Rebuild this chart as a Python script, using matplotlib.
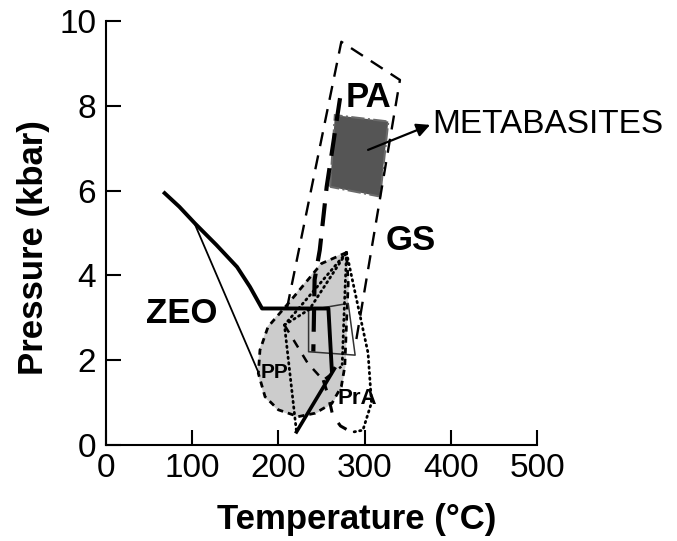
import numpy as np
import matplotlib.pyplot as plt

plt.rcParams['font.family'] = ['Liberation Sans', 'DejaVu Sans']

# ZEO boundary (thick solid)
zeo_t = [68, 85, 103, 128, 152, 167, 181, 258, 262]
zeo_p = [5.94, 5.62, 5.23, 4.72, 4.20, 3.73, 3.22, 3.22, 1.75]
# thick solid diagonal at the bottom
diag_t = [221, 265]
diag_p = [0.31, 1.80]
# thin line from ZEO curve to PP
pp_t = [103, 176]
pp_p = [5.21, 1.75]

# GS / PA field (dashed, open at bottom)
gs_t = [210, 273, 341, 289]
gs_p = [3.23, 9.51, 8.61, 2.32]
# PA boundary (thick long dashes)
pa_t = [271.5, 256, 248, 242, 240.5]
pa_p = [8.18, 6.09, 4.60, 3.90, 2.20]

# metabasites box and arrow to its label
meta_t = [260, 265.5, 327.5, 318]
meta_p = [6.09, 7.78, 7.63, 5.86]
arrow_start = (304, 6.96)
arrow_end = (376, 7.55)

# PP field (grey, dashed edge)
pp_field_t = [279, 250, 211.5, 188, 178.6, 176.7, 184.5, 200, 223, 242.5, 262, 273, 277, 279, 281]
pp_field_p = [4.54, 4.28, 3.34, 2.79, 2.24, 1.69, 1.14, 0.83, 0.67, 0.75, 0.98, 1.38, 1.85, 2.87, 3.81]

# dotted outlines
dot1_t = [279, 207, 221]
dot1_p = [4.54, 2.83, 0.31]
dot2_t = [207, 236, 279]
dot2_p = [2.83, 3.20, 4.54]
dot3_t = [279, 304, 308, 298, 285]
dot3_p = [4.54, 2.17, 1.00, 0.35, 0.30]
dot4_t = [279, 276, 274]
dot4_p = [4.54, 3.00, 1.90]

# dashed lines inside PP field
dash_in_t = [207, 234, 252, 273]
dash_in_p = [2.83, 1.93, 1.53, 1.85]
prA_arc_t = [252, 258, 263, 272, 285]
prA_arc_p = [1.53, 1.15, 0.70, 0.45, 0.30]

# thin rectangle
rect_t = [235, 281, 289, 235, 235]
rect_p = [3.18, 3.34, 2.12, 2.20, 3.18]

fig = plt.figure(figsize=(6.77, 5.41), dpi=100)
ax = fig.add_axes([0.1566, 0.1774, 0.6366, 0.7838])

ax.fill(pp_field_t, pp_field_p, color='#cccccc', zorder=1)
ax.fill(pp_field_t, pp_field_p, fill=False, ec='black', lw=2.0,
        ls=(0, (2.2, 1.8)), zorder=3)
ax.fill(meta_t, meta_p, fc='#555555', ec='#6a6a6a', lw=1.5,
        ls='-.', zorder=2)

ax.plot(gs_t, gs_p, color='black', lw=1.7, ls=(0, (6, 4)), zorder=3)
ax.plot(pa_t, pa_p, color='black', lw=3.0, ls=(0, (5.5, 3)), zorder=4)
ax.plot(zeo_t, zeo_p, color='black', lw=2.8, zorder=5)
ax.plot(diag_t, diag_p, color='black', lw=2.6, zorder=5)
ax.plot(pp_t, pp_p, color='black', lw=1.3, zorder=5)
ax.plot(rect_t, rect_p, color='#333333', lw=1.1, zorder=4)

for t, p in [(dot1_t, dot1_p), (dot2_t, dot2_p), (dot3_t, dot3_p), (dot4_t, dot4_p)]:
    ax.plot(t, p, color='black', lw=2.0, ls=(0, (0.5, 1.5)),
            dash_capstyle='round', zorder=4)
ax.plot(dash_in_t, dash_in_p, color='black', lw=1.8, ls=(0, (3.5, 3.5)), zorder=4)
ax.plot(prA_arc_t, prA_arc_p, color='black', lw=2.2, ls=(0, (3.5, 4)), zorder=4)

ax.text(304, 8.2, 'PA', fontsize=25, fontweight='bold', ha='center', va='center')
ax.text(353, 4.83, 'GS', fontsize=25, fontweight='bold', ha='center', va='center')
ax.text(88, 3.11, 'ZEO', fontsize=25, fontweight='bold', ha='center', va='center')
ax.text(195, 1.70, 'PP', fontsize=15, fontweight='bold', ha='center', va='center', zorder=6)
ax.text(291, 1.10, 'PrA', fontsize=16, fontweight='bold', ha='center', va='center', zorder=6)
ax.annotate('', xy=arrow_end, xytext=arrow_start,
            arrowprops=dict(arrowstyle='-|>', color='black', lw=1.6,
                            mutation_scale=20, shrinkA=0, shrinkB=0), zorder=6)
ax.text(arrow_end[0] + 2, arrow_end[1], 'METABASITES', fontsize=24,
        ha='left', va='center')

ax.set_xlim(0, 500)
ax.set_ylim(0, 10)
ax.set_xticks([0, 100, 200, 300, 400, 500])
ax.set_yticks([0, 2, 4, 6, 8, 10])
ax.tick_params(direction='in', length=11, width=1.5, labelsize=24)
ax.tick_params(axis='x', pad=6)
ax.tick_params(axis='y', pad=7)
for side in ['top', 'right']:
    ax.spines[side].set_visible(False)
for side in ['left', 'bottom']:
    ax.spines[side].set_linewidth(1.5)

fig.text(0.527, 0.039, 'Temperature (°C)', fontsize=25, fontweight='bold',
         ha='center', va='center')
fig.text(0.049, 0.542, 'Pressure (kbar)', fontsize=25, fontweight='bold',
         ha='center', va='center', rotation=90)

fig.savefig('out.png', dpi=100)
